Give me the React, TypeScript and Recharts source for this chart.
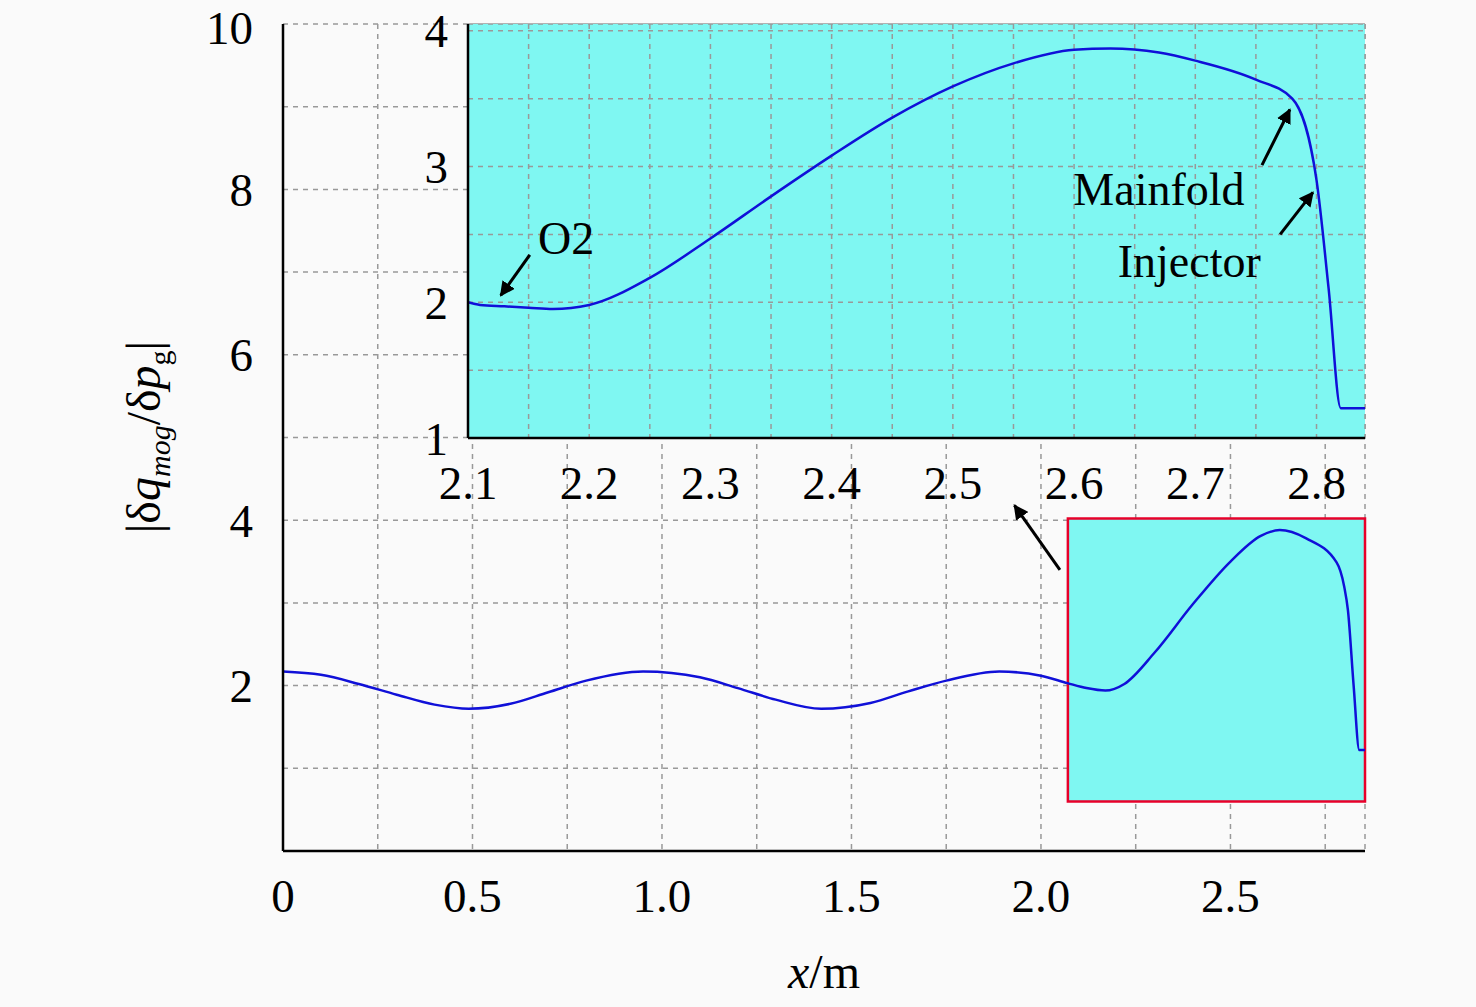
import React from "react";
import { LineChart, Line, XAxis, YAxis, CartesianGrid, ReferenceArea, ReferenceLine, ReferenceDot } from "recharts";

const mainX = [0, 0.1, 0.2, 0.3, 0.4, 0.49, 0.6, 0.7, 0.8, 0.95, 1.1, 1.2, 1.3, 1.42, 1.55, 1.65, 1.75, 1.89, 2.0, 2.07, 2.12, 2.17, 2.22, 2.3, 2.4, 2.5, 2.58, 2.63, 2.7, 2.78, 2.8, 2.81, 2.825, 2.84, 2.855];
const mainY = [2.17, 2.13, 2.02, 1.89, 1.77, 1.72, 1.78, 1.92, 2.06, 2.17, 2.1, 1.97, 1.83, 1.72, 1.79, 1.93, 2.06, 2.17, 2.12, 2.03, 1.97, 1.94, 2.02, 2.4, 2.98, 3.5, 3.81, 3.88, 3.78, 3.49, 3.2, 2.91, 2.0, 1.22, 1.22];
const insetX = [2.1, 2.11, 2.13, 2.15, 2.17, 2.2, 2.25, 2.3, 2.35, 2.4, 2.45, 2.5, 2.55, 2.6, 2.63, 2.67, 2.7, 2.75, 2.78, 2.8, 2.81, 2.82, 2.84];
const insetY = [2.0, 1.98, 1.97, 1.96, 1.95, 1.98, 2.18, 2.47, 2.78, 3.08, 3.36, 3.59, 3.76, 3.86, 3.87, 3.84, 3.78, 3.64, 3.5, 2.9, 2.1, 1.22, 1.22];
const mainXTicks = [0, 0.25, 0.5, 0.75, 1, 1.25, 1.5, 1.75, 2, 2.25, 2.5, 2.75];
const mainYTicks = [0, 1, 2, 3, 4, 5, 6, 7, 8, 9, 10];
const insetXTicks = [2.1, 2.15, 2.2, 2.25, 2.3, 2.35, 2.4, 2.45, 2.5, 2.55, 2.6, 2.65, 2.7, 2.75, 2.8];
const insetYTicks = [1, 1.5, 2, 2.5, 3, 3.5, 4];

const mainData = mainX.map((x, i) => ({ x, y: mainY[i] }));
const insetData = insetX.map((x, i) => ({ x, y: insetY[i] }));

const FONT = "'Liberation Serif', 'Times New Roman', serif";
const tickStyle = { fontFamily: FONT, fontSize: 47, fill: "#000" };

const fmtMainX = (v: number) => (Math.abs(v * 2 - Math.round(v * 2)) < 1e-6 ? (v === 0 ? "0" : v.toFixed(1)) : "");
const fmtMainY = (v: number) => (v % 2 === 0 && v !== 0 ? String(v) : "");
const fmtInsetX = (v: number) => (Math.abs(v * 10 - Math.round(v * 10)) < 1e-6 ? v.toFixed(1) : "");
const fmtInsetY = (v: number) => (Number.isInteger(v) ? String(v) : "");

const arrowShape = (props: any) => {
  const { x1, y1, x2, y2 } = props;
  return <line x1={x1} y1={y1} x2={x2} y2={y2} stroke="#000" strokeWidth={3} markerEnd="url(#ah)" />;
};

const textLabel = (txt: string) => (props: any) => {
  const { viewBox } = props;
  return (
    <text x={viewBox.x} y={viewBox.y} textAnchor="middle" dominantBaseline="central" fontFamily={FONT} fontSize={46} fill="#000">
      {txt}
    </text>
  );
};

const YLabel = () => (
  <text x={160} y={437} transform="rotate(-90 160 437)" textAnchor="middle" fontFamily={FONT} fontSize={48} fill="#000">
    <tspan>|δ</tspan>
    <tspan fontStyle="italic">q</tspan>
    <tspan fontSize={30} dy={10} fontStyle="italic">mog</tspan>
    <tspan dy={-10}>/δ</tspan>
    <tspan fontStyle="italic">p</tspan>
    <tspan fontSize={30} dy={10}>g</tspan>
    <tspan dy={-10}>|</tspan>
  </text>
);

const XLabel = () => (
  <text x={824} y={988} textAnchor="middle" fontFamily={FONT} fontSize={48} fill="#000">
    <tspan fontStyle="italic">x</tspan>
    <tspan>/m</tspan>
  </text>
);

export default function App() {
  return (
    <div style={{ position: "absolute", left: 0, top: 0, width: 1476, height: 1007, background: "#fafafa" }}>
      <svg width={0} height={0} style={{ position: "absolute" }}>
        <defs>
          <marker id="ah" viewBox="0 0 10 10" refX="9" refY="5" markerWidth="5" markerHeight="5" orient="auto">
            <path d="M0,0 L10,5 L0,10 z" fill="#000" />
          </marker>
        </defs>
      </svg>
      <div style={{ position: "absolute", left: 0, top: 0 }}>
        <LineChart width={1476} height={1007} data={mainData} margin={{ top: 24, right: 111, bottom: 96, left: 223 }}>
          <ReferenceArea x1={2.071} x2={2.855} y1={0.6} y2={4.02} fill="#7ff7f2" fillOpacity={1} stroke="#e8002a" strokeWidth={2.5} ifOverflow="visible" />
          <CartesianGrid stroke="#999" strokeDasharray="5 5" strokeWidth={1.5} />
          <XAxis dataKey="x" type="number" domain={[0, 2.855]} ticks={mainXTicks} tickFormatter={fmtMainX} tick={tickStyle} height={60} tickLine={false} axisLine={{ stroke: "#000", strokeWidth: 2.5 }} tickMargin={22} allowDataOverflow />
          <XAxis xAxisId="top" orientation="top" type="number" domain={[0, 2.855]} tick={false} tickLine={false} height={0} axisLine={{ stroke: "#000", strokeWidth: 2.5 }} />
          <YAxis type="number" domain={[0, 10]} ticks={mainYTicks} tickFormatter={fmtMainY} tick={tickStyle} width={60} tickLine={false} axisLine={{ stroke: "#000", strokeWidth: 2.5 }} tickMargin={24} />
          <YAxis yAxisId="right" orientation="right" domain={[0, 10]} tick={false} tickLine={false} width={0} axisLine={{ stroke: "#000", strokeWidth: 2.5 }} />
          <Line dataKey="y" type="monotone" stroke="#1010d8" strokeWidth={2.5} dot={false} isAnimationActive={false} />
          <ReferenceLine segment={[{ x: 2.05, y: 3.4 }, { x: 1.93, y: 4.18 }]} shape={arrowShape} ifOverflow="visible" />
        </LineChart>
      </div>
      <div style={{ position: "absolute", left: 0, top: 0 }}>
        <LineChart width={1476} height={1007} data={insetData} margin={{ top: 24, right: 111, bottom: 509, left: 408 }}>
          <CartesianGrid stroke="#999" strokeDasharray="5 5" strokeWidth={1.5} fill="#7ff7f2" fillOpacity={1} />
          <XAxis dataKey="x" type="number" domain={[2.1, 2.84]} ticks={insetXTicks} tickFormatter={fmtInsetX} tick={tickStyle} height={60} tickLine={false} axisLine={{ stroke: "#000", strokeWidth: 2.5 }} tickMargin={22} allowDataOverflow />
          <YAxis type="number" domain={[1, 4.05]} ticks={insetYTicks} tickFormatter={fmtInsetY} tick={tickStyle} width={60} tickLine={false} axisLine={{ stroke: "#000", strokeWidth: 2.5 }} tickMargin={14} allowDataOverflow />
          <Line dataKey="y" type="monotone" stroke="#1010d8" strokeWidth={2.5} dot={false} isAnimationActive={false} />
          <ReferenceLine segment={[{ x: 2.151, y: 2.35 }, { x: 2.127, y: 2.05 }]} shape={arrowShape} ifOverflow="visible" />
          <ReferenceLine segment={[{ x: 2.755, y: 3.01 }, { x: 2.778, y: 3.42 }]} shape={arrowShape} ifOverflow="visible" />
          <ReferenceLine segment={[{ x: 2.77, y: 2.5 }, { x: 2.797, y: 2.81 }]} shape={arrowShape} ifOverflow="visible" />
          <ReferenceDot x={2.181} y={2.47} r={0} fill="none" stroke="none" label={textLabel("O2")} ifOverflow="visible" />
          <ReferenceDot x={2.67} y={2.83} r={0} fill="none" stroke="none" label={textLabel("Mainfold")} ifOverflow="visible" />
          <ReferenceDot x={2.695} y={2.3} r={0} fill="none" stroke="none" label={textLabel("Injector")} ifOverflow="visible" />
        </LineChart>
      </div>
      <svg width={1476} height={1007} style={{ position: "absolute", left: 0, top: 0, pointerEvents: "none" }}>
        <YLabel />
        <XLabel />
      </svg>
    </div>
  );
}
